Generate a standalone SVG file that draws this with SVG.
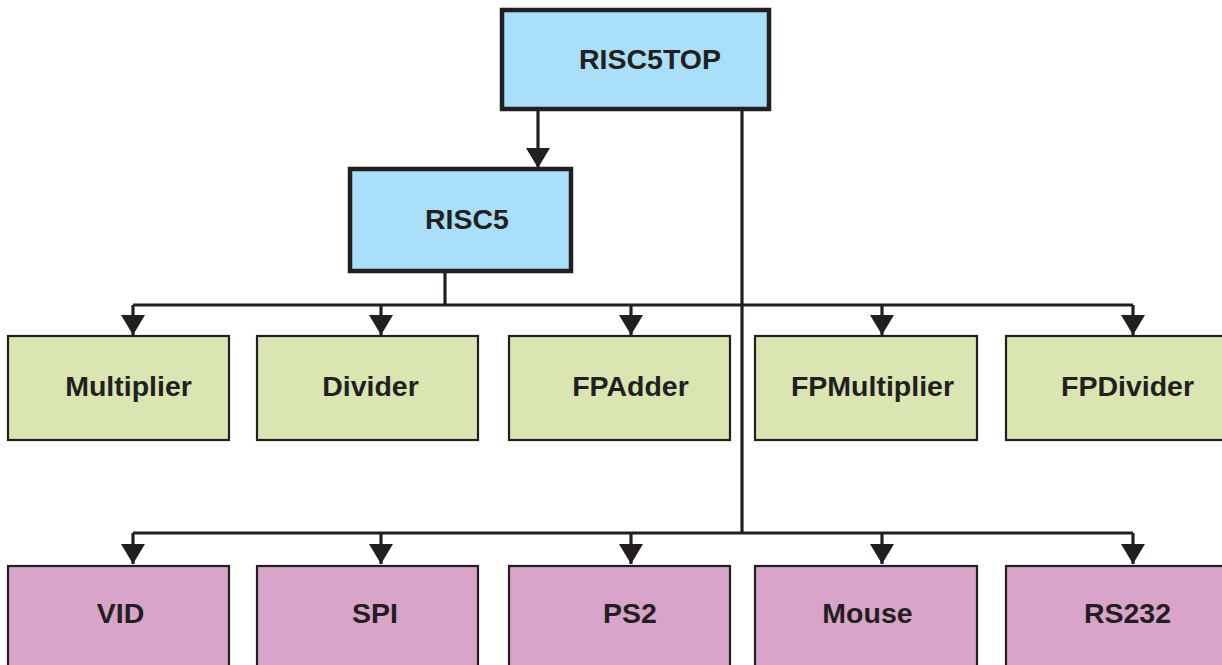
<svg xmlns="http://www.w3.org/2000/svg" width="1222" height="665" viewBox="0 0 1222 665">
<style>
.lbl{font-family:"Liberation Sans",Arial,sans-serif;font-weight:bold;font-size:28.5px;fill:#231f20;text-anchor:middle}
.top{fill:#a9dff8;stroke:#231f20;stroke-width:4.5}
.core{fill:#d9e6b1;stroke:#231f20;stroke-width:2.2}
.io{fill:#d8a4c9;stroke:#231f20;stroke-width:2.2}
.wire{fill:none;stroke:#231f20;stroke-width:3.2}
</style>
<defs>
<marker id="ah" markerUnits="userSpaceOnUse" markerWidth="20" markerHeight="24" refX="20" refY="12" orient="auto" viewBox="0 0 20 24">
<path d="M0,0 L20,12 L0,24 z" fill="#231f20"/>
</marker>
</defs>
<g id="connectors">
<path class="wire" d="M538,110 V168" marker-end="url(#ah)"/>
<path class="wire" d="M742,110 V533"/>
<path class="wire" d="M445,273 V305"/>
<path class="wire" d="M133,305 H1133"/>
<path class="wire" d="M133,305 V335" marker-end="url(#ah)"/>
<path class="wire" d="M381,305 V335" marker-end="url(#ah)"/>
<path class="wire" d="M631,305 V335" marker-end="url(#ah)"/>
<path class="wire" d="M882,305 V335" marker-end="url(#ah)"/>
<path class="wire" d="M1133,305 V335" marker-end="url(#ah)"/>
<path class="wire" d="M133,533 H1133"/>
<path class="wire" d="M133,533 V564" marker-end="url(#ah)"/>
<path class="wire" d="M381,533 V564" marker-end="url(#ah)"/>
<path class="wire" d="M631,533 V564" marker-end="url(#ah)"/>
<path class="wire" d="M882,533 V564" marker-end="url(#ah)"/>
<path class="wire" d="M1133,533 V564" marker-end="url(#ah)"/>
</g>
<g id="risc5top"><rect class="top" x="502" y="10" width="267" height="99"/><text class="lbl" x="650" y="69">RISC5TOP</text></g>
<g id="risc5"><rect class="top" x="350" y="169" width="221" height="102"/><text class="lbl" x="467" y="229">RISC5</text></g>
<g id="multiplier"><rect class="core" x="8" y="336" width="221" height="104"/><text class="lbl" x="128.5" y="396">Multiplier</text></g>
<g id="divider"><rect class="core" x="257" y="336" width="221" height="104"/><text class="lbl" x="370.5" y="396">Divider</text></g>
<g id="fpadder"><rect class="core" x="509" y="336" width="221" height="104"/><text class="lbl" x="630.5" y="396">FPAdder</text></g>
<g id="fpmultiplier"><rect class="core" x="755" y="336" width="222" height="104"/><text class="lbl" x="872.5" y="396">FPMultiplier</text></g>
<g id="fpdivider"><rect class="core" x="1006" y="336" width="222" height="104"/><text class="lbl" x="1127.5" y="396">FPDivider</text></g>
<g id="vid"><rect class="io" x="8" y="566" width="221" height="104"/><text class="lbl" x="120.5" y="623">VID</text></g>
<g id="spi"><rect class="io" x="257" y="566" width="221" height="104"/><text class="lbl" x="375" y="623">SPI</text></g>
<g id="ps2"><rect class="io" x="509" y="566" width="221" height="104"/><text class="lbl" x="630" y="623">PS2</text></g>
<g id="mouse"><rect class="io" x="755" y="566" width="222" height="104"/><text class="lbl" x="867.5" y="623">Mouse</text></g>
<g id="rs232"><rect class="io" x="1006" y="566" width="222" height="104"/><text class="lbl" x="1127.5" y="623">RS232</text></g>
</svg>
